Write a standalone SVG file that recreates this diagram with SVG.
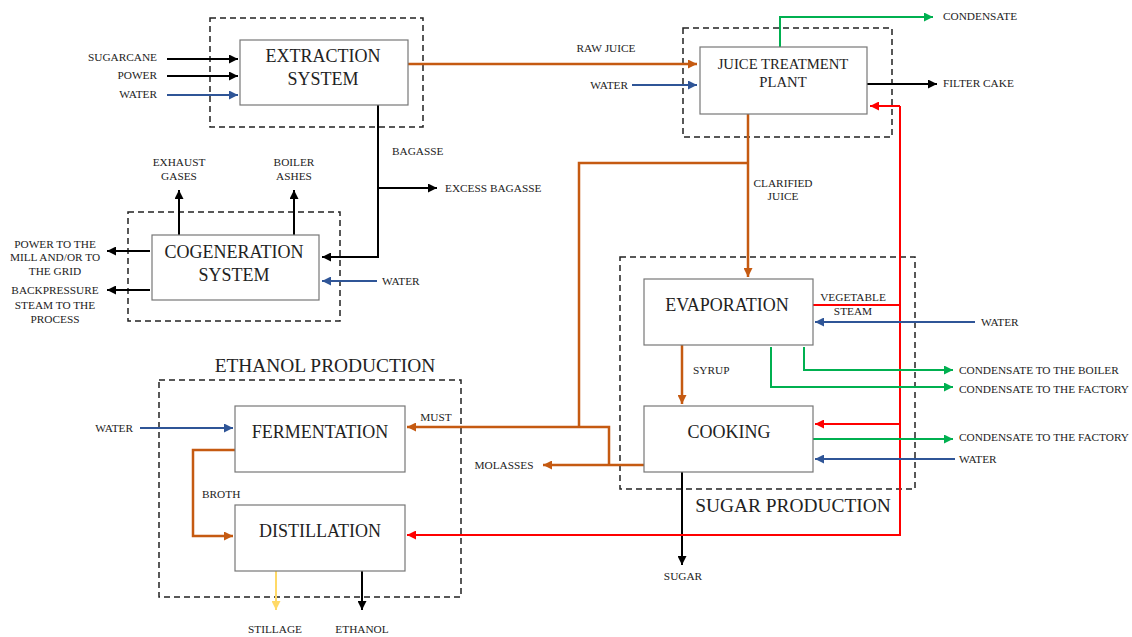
<svg xmlns="http://www.w3.org/2000/svg" width="1132" height="637" viewBox="0 0 1132 637">
<style>
text{font-family:"Liberation Serif","Times New Roman",serif;fill:#222}
.s{font-size:11.3px}
.b{font-size:18px}
.t{font-size:19.4px}
.box{fill:#fff;stroke:#777;stroke-width:1.2}
.dash{fill:none;stroke:#222;stroke-width:1.5;stroke-dasharray:6 4}
.k{fill:none;stroke:#000;stroke-width:2}
.o{fill:none;stroke:#C55A11;stroke-width:2.5}
.u{fill:none;stroke:#2F5597;stroke-width:2}
.g{fill:none;stroke:#00B050;stroke-width:2}
.r{fill:none;stroke:#FF0000;stroke-width:2}
.y{fill:none;stroke:#FFD966;stroke-width:2}
</style>
<defs>
<marker id="ak" viewBox="0 0 10 10" refX="10" refY="5" markerWidth="10" markerHeight="9" markerUnits="userSpaceOnUse" orient="auto"><path d="M0,0L10,5L0,10z" fill="#000"/></marker>
<marker id="ao" viewBox="0 0 10 10" refX="10" refY="5" markerWidth="10" markerHeight="9" markerUnits="userSpaceOnUse" orient="auto"><path d="M0,0L10,5L0,10z" fill="#C55A11"/></marker>
<marker id="au" viewBox="0 0 10 10" refX="10" refY="5" markerWidth="10" markerHeight="9" markerUnits="userSpaceOnUse" orient="auto"><path d="M0,0L10,5L0,10z" fill="#2F5597"/></marker>
<marker id="ag" viewBox="0 0 10 10" refX="10" refY="5" markerWidth="10" markerHeight="9" markerUnits="userSpaceOnUse" orient="auto"><path d="M0,0L10,5L0,10z" fill="#00B050"/></marker>
<marker id="ar" viewBox="0 0 10 10" refX="10" refY="5" markerWidth="10" markerHeight="9" markerUnits="userSpaceOnUse" orient="auto"><path d="M0,0L10,5L0,10z" fill="#FF0000"/></marker>
<marker id="ay" viewBox="0 0 10 10" refX="10" refY="5" markerWidth="10" markerHeight="9" markerUnits="userSpaceOnUse" orient="auto"><path d="M0,0L10,5L0,10z" fill="#FFD966"/></marker>
</defs>
<rect width="1132" height="637" fill="#fff"/>

<g id="groups">
<rect class="dash" x="210" y="18" width="213" height="109"/>
<rect class="dash" x="683" y="28" width="209" height="109"/>
<rect class="dash" x="128" y="212" width="212" height="109"/>
<rect class="dash" x="159" y="380" width="302" height="217"/>
<rect class="dash" x="620" y="257" width="295" height="232"/>
<text class="t" x="325" y="372" text-anchor="middle">ETHANOL PRODUCTION</text>
<text class="t" x="793" y="512" text-anchor="middle">SUGAR PRODUCTION</text>
</g>

<g id="connectors">
<path class="k" d="M167,59H238" marker-end="url(#ak)"/>
<path class="k" d="M167,76H238" marker-end="url(#ak)"/>
<path class="u" d="M167,95H238" marker-end="url(#au)"/>
<path class="o" d="M408,64H697" marker-end="url(#ao)"/>
<path class="u" d="M632,85H697" marker-end="url(#au)"/>
<path class="g" d="M780,50V17H933" marker-end="url(#ag)"/>
<path class="k" d="M867,84H937" marker-end="url(#ak)"/>
<path class="k" d="M378,105V257H322" marker-end="url(#ak)"/>
<path class="k" d="M378,188H437" marker-end="url(#ak)"/>
<path class="u" d="M377,281H322" marker-end="url(#au)"/>
<path class="k" d="M179,235V190" marker-end="url(#ak)"/>
<path class="k" d="M294,235V190" marker-end="url(#ak)"/>
<path class="k" d="M150,251H107" marker-end="url(#ak)"/>
<path class="k" d="M150,290H107" marker-end="url(#ak)"/>
<path class="o" d="M748,114V277" marker-end="url(#ao)"/>
<path class="o" d="M748,163H579V427"/>
<path class="o" d="M609,465V427H407" marker-end="url(#ao)"/>
<path class="o" d="M644,465H543" marker-end="url(#ao)"/>
<path class="o" d="M682,345V404" marker-end="url(#ao)"/>
<path class="k" d="M682,472V565" marker-end="url(#ak)"/>
<path class="r" d="M813,305H900"/>
<path class="r" d="M900,106H870" marker-end="url(#ar)"/>
<path class="r" d="M900,106V535H407" marker-end="url(#ar)"/>
<path class="r" d="M900,424H815" marker-end="url(#ar)"/>
<path class="u" d="M975,322H815" marker-end="url(#au)"/>
<path class="g" d="M804,347V370H953" marker-end="url(#ag)"/>
<path class="g" d="M771,347V387H953" marker-end="url(#ag)"/>
<path class="g" d="M813,439H953" marker-end="url(#ag)"/>
<path class="u" d="M955,459H815" marker-end="url(#au)"/>
<path class="u" d="M140,428H233" marker-end="url(#au)"/>
<path class="o" d="M235,450H193V536H233" marker-end="url(#ao)"/>
<path class="y" d="M276,571V610" marker-end="url(#ay)"/>
<path class="k" d="M362,571V610" marker-end="url(#ak)"/>
</g>

<g id="extraction"><rect class="box" x="240" y="40" width="168" height="65"/>
<text class="b" x="323" y="62" text-anchor="middle">EXTRACTION</text>
<text class="b" x="323" y="85" text-anchor="middle">SYSTEM</text></g>

<g id="juice-treatment"><rect class="box" x="700" y="47" width="167" height="67"/>
<text x="783" y="69" text-anchor="middle" style="font-size:14.7px">JUICE TREATMENT</text>
<text x="783" y="87" text-anchor="middle" style="font-size:14.7px">PLANT</text></g>

<g id="cogeneration"><rect class="box" x="152" y="235" width="167" height="65"/>
<text class="b" x="234" y="258" text-anchor="middle">COGENERATION</text>
<text class="b" x="234" y="281" text-anchor="middle">SYSTEM</text></g>

<g id="fermentation"><rect class="box" x="235" y="406" width="170" height="66"/>
<text class="b" x="320" y="438" text-anchor="middle">FERMENTATION</text></g>

<g id="distillation"><rect class="box" x="235" y="505" width="170" height="66"/>
<text class="b" x="320" y="537" text-anchor="middle">DISTILLATION</text></g>

<g id="evaporation"><rect class="box" x="644" y="279" width="169" height="66"/>
<text class="b" x="727" y="311" text-anchor="middle">EVAPORATION</text></g>

<g id="cooking"><rect class="box" x="644" y="406" width="169" height="66"/>
<text class="b" x="729" y="438" text-anchor="middle">COOKING</text></g>

<g id="labels">
<text class="s" x="157" y="61" text-anchor="end">SUGARCANE</text>
<text class="s" x="157" y="79" text-anchor="end">POWER</text>
<text class="s" x="157" y="98" text-anchor="end">WATER</text>
<text class="s" x="606" y="52" text-anchor="middle">RAW JUICE</text>
<text class="s" x="628" y="89" text-anchor="end">WATER</text>
<text class="s" x="943" y="20">CONDENSATE</text>
<text class="s" x="943" y="87">FILTER CAKE</text>
<text class="s" x="392" y="155">BAGASSE</text>
<text class="s" x="445" y="192">EXCESS BAGASSE</text>
<text class="s" x="382" y="285">WATER</text>
<text class="s" x="179" y="166" text-anchor="middle">EXHAUST</text>
<text class="s" x="179" y="180" text-anchor="middle">GASES</text>
<text class="s" x="294" y="166" text-anchor="middle">BOILER</text>
<text class="s" x="294" y="180" text-anchor="middle">ASHES</text>
<text class="s" x="55" y="248" text-anchor="middle">POWER TO THE</text>
<text class="s" x="55" y="261" text-anchor="middle">MILL AND/OR TO</text>
<text class="s" x="55" y="275" text-anchor="middle">THE GRID</text>
<text class="s" x="55" y="294" text-anchor="middle">BACKPRESSURE</text>
<text class="s" x="55" y="309" text-anchor="middle">STEAM TO THE</text>
<text class="s" x="55" y="323" text-anchor="middle">PROCESS</text>
<text class="s" x="783" y="187" text-anchor="middle">CLARIFIED</text>
<text class="s" x="783" y="200" text-anchor="middle">JUICE</text>
<text class="s" x="853" y="301" text-anchor="middle">VEGETABLE</text>
<text class="s" x="853" y="315" text-anchor="middle">STEAM</text>
<text class="s" x="981" y="326">WATER</text>
<text class="s" x="959" y="374">CONDENSATE TO THE BOILER</text>
<text class="s" x="959" y="393">CONDENSATE TO THE FACTORY</text>
<text class="s" x="959" y="441">CONDENSATE TO THE FACTORY</text>
<text class="s" x="959" y="463">WATER</text>
<text class="s" x="693" y="374">SYRUP</text>
<text class="s" x="683" y="580" text-anchor="middle">SUGAR</text>
<text class="s" x="436" y="421" text-anchor="middle">MUST</text>
<text class="s" x="504" y="469" text-anchor="middle">MOLASSES</text>
<text class="s" x="133" y="432" text-anchor="end">WATER</text>
<text class="s" x="202" y="498">BROTH</text>
<text class="s" x="275" y="633" text-anchor="middle">STILLAGE</text>
<text class="s" x="362" y="633" text-anchor="middle">ETHANOL</text>
</g>
</svg>
